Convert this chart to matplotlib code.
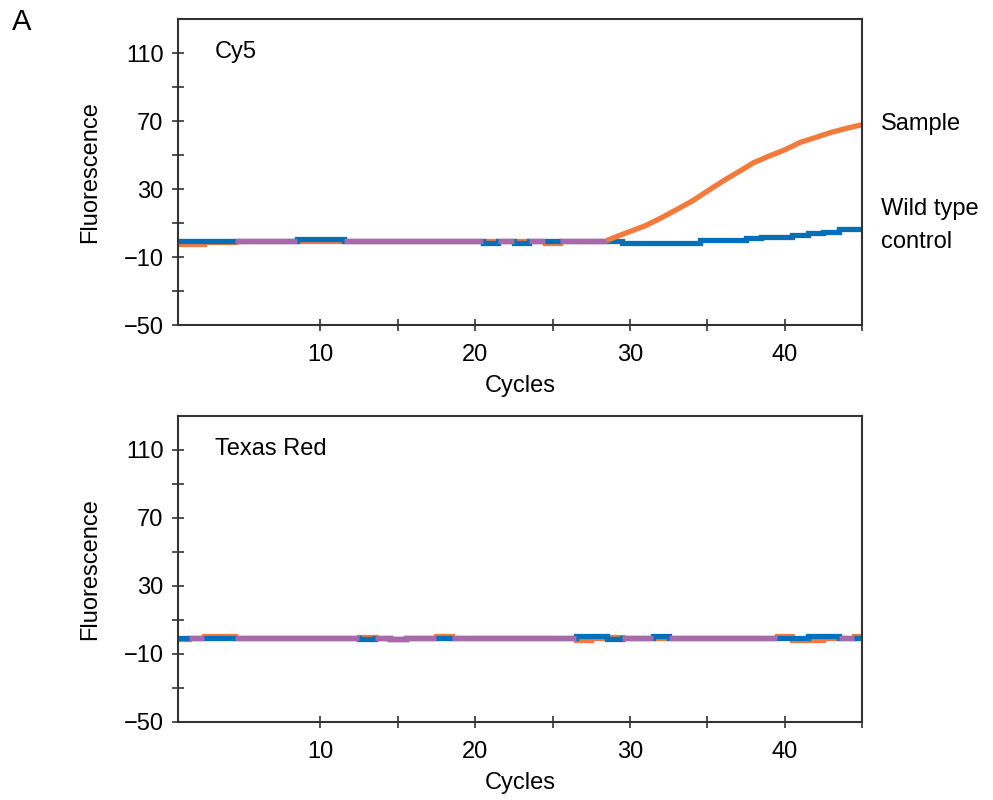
import numpy as np
import matplotlib
matplotlib.use("Agg")
import matplotlib.pyplot as plt

plt.rcParams['font.family'] = ['Liberation Sans', 'DejaVu Sans']

# ------------ Data ---------------
cycles = np.arange(1, 46)

# Cy5 channel
cy5_sample = [-2.3, -2.3, -1.2, -1.2, -0.3, -0.3, -0.3, -0.3, -0.8, -0.8,
              -0.8, -0.3, -0.3, -0.3, -0.3, -0.3, -0.3, -0.3, -0.3, -0.3,
              -0.8, -0.3, -0.8, -0.3, -1.8, -0.3, -0.3, -0.3, 1.5, 5.0,
              8.4, 12.9, 17.8, 22.8, 28.7, 34.6, 40.0, 45.5, 49.4, 53.0,
              57.4, 60.3, 63.3, 65.7, 67.8]
cy5_control = [-0.3, -0.3, -0.3, -0.3, -0.3, -0.3, -0.3, -0.3, 0.7, 0.7,
               0.7, -0.3, -0.3, -0.3, -0.3, -0.3, -0.3, -0.3, -0.3, -0.3,
               -1.5, -0.3, -1.5, -0.3, -0.8, -0.3, -0.3, -0.3, -0.3, -1.5,
               -1.5, -1.5, -1.5, -1.5, -0.2, -0.2, -0.2, 0.9, 1.9, 1.9,
               2.8, 4.0, 5.0, 6.4, 6.4]

# Texas Red channel
tr_sample = [-1.2, -0.3, 0.6, 0.6, -0.3, -0.3, -0.3, -0.3, -0.3, -0.3,
             -0.3, -0.3, 0.0, -0.3, -1.3, -0.3, -0.3, 0.6, -0.3, -0.3,
             -0.3, -0.3, -0.3, -0.3, -0.3, -0.3, -1.5, -0.6, 0.2, -0.3,
             -0.3, -0.3, -0.3, -0.3, -0.3, -0.3, -0.3, -0.3, -0.3, 0.6,
             -1.8, -1.8, -0.8, -0.3, 0.6]
tr_control = [-0.3, -0.3, -0.3, -0.3, -0.3, -0.3, -0.3, -0.3, -0.3, -0.3,
              -0.3, -0.3, -1.3, -0.3, -1.3, -0.3, -0.3, -0.3, -0.3, -0.3,
              -0.3, -0.3, -0.3, -0.3, -0.3, -0.3, 0.8, 0.8, -1.0, -0.3,
              -0.3, 0.8, -0.3, -0.3, -0.3, -0.3, -0.3, -0.3, -0.3, -0.3,
              -0.6, 0.6, 0.6, -0.3, -0.3]

panels = [("Cy5", cy5_sample, cy5_control), ("Texas Red", tr_sample, tr_control)]

yticks = [-50, -10, 30, 70, 110]
xticks = [10, 20, 30, 40]

ORANGE = '#f47a3c'
BLUE = '#0070ba'
PURPLE = '#a96aab'
LW = 3.8
FS = 17


def draw_trace(ax, vals, color, rise_from=None):
    # flat part as steps, amplification part as a smooth curve
    vals = np.asarray(vals)
    if rise_from is None:
        ax.stairs(vals, np.r_[cycles - 0.5, cycles[-1] + 0.5], baseline=None,
                  color=color, lw=LW)
        return
    k = int(np.searchsorted(cycles, rise_from))
    ax.stairs(vals[:k], np.r_[cycles[:k] - 0.5, cycles[k - 1] + 0.5],
              baseline=None, color=color, lw=LW)
    ax.plot(np.r_[cycles[k - 1] + 0.5, cycles[k:]], np.r_[vals[k - 1], vals[k:]],
            color=color, lw=LW, solid_capstyle='butt')


def draw_overlap(ax, a, b):
    # where both traces coincide the overlap shows as purple
    a = np.asarray(a)
    same = np.isclose(a, np.asarray(b))
    i = 0
    while i < len(cycles):
        if not same[i]:
            i += 1
            continue
        j = i
        while j + 1 < len(cycles) and same[j + 1]:
            j += 1
        ax.stairs(a[i:j + 1], np.r_[cycles[i:j + 1] - 0.5, cycles[j] + 0.5],
                  baseline=None, color=PURPLE, lw=LW)
        i = j + 1


# ------------ Plot ---------------
fig = plt.figure(figsize=(9.93, 8.0), dpi=100)
axes = [fig.add_axes([0.1793, 0.59375, 0.6888, 0.3825]),
        fig.add_axes([0.1793, 0.0975, 0.6888, 0.3825])]

for n, (ax, (name, sample, control)) in enumerate(zip(axes, panels)):
    draw_trace(ax, sample, ORANGE, rise_from=29 if n == 0 else None)
    draw_trace(ax, control, BLUE)
    draw_overlap(ax, sample, control)

    ax.set_xlim(0.8, 45)
    ax.set_ylim(-50, 130)
    ax.set_yticks(yticks)
    ax.set_yticks(np.arange(-30, 111, 40), minor=True)
    ax.set_xticks(xticks)
    ax.set_xticks([15, 25, 35, 45], minor=True)
    ax.tick_params(which='both', direction='inout', length=9, width=1.2,
                   color='#333333', labelsize=FS)
    ax.tick_params(axis='x', pad=9)
    ax.tick_params(axis='y', pad=6)
    for s in ax.spines.values():
        s.set_linewidth(1.5)
        s.set_color('#333333')
    ax.set_xlabel("Cycles", fontsize=FS, labelpad=7)
    ax.set_ylabel("Fluorescence", fontsize=FS, labelpad=16)
    ax.text(0.054, 0.893, name, transform=ax.transAxes, fontsize=FS,
            va='center', ha='left')

fig.text(0.012, 0.972, "A", fontsize=21, va='center', ha='left')
fig.text(0.887, 0.8455, "Sample", fontsize=FS, va='center', ha='left')
fig.text(0.887, 0.739, "Wild type", fontsize=FS, va='center', ha='left')
fig.text(0.887, 0.698, "control", fontsize=FS, va='center', ha='left')

fig.savefig("out.png", dpi=100)
